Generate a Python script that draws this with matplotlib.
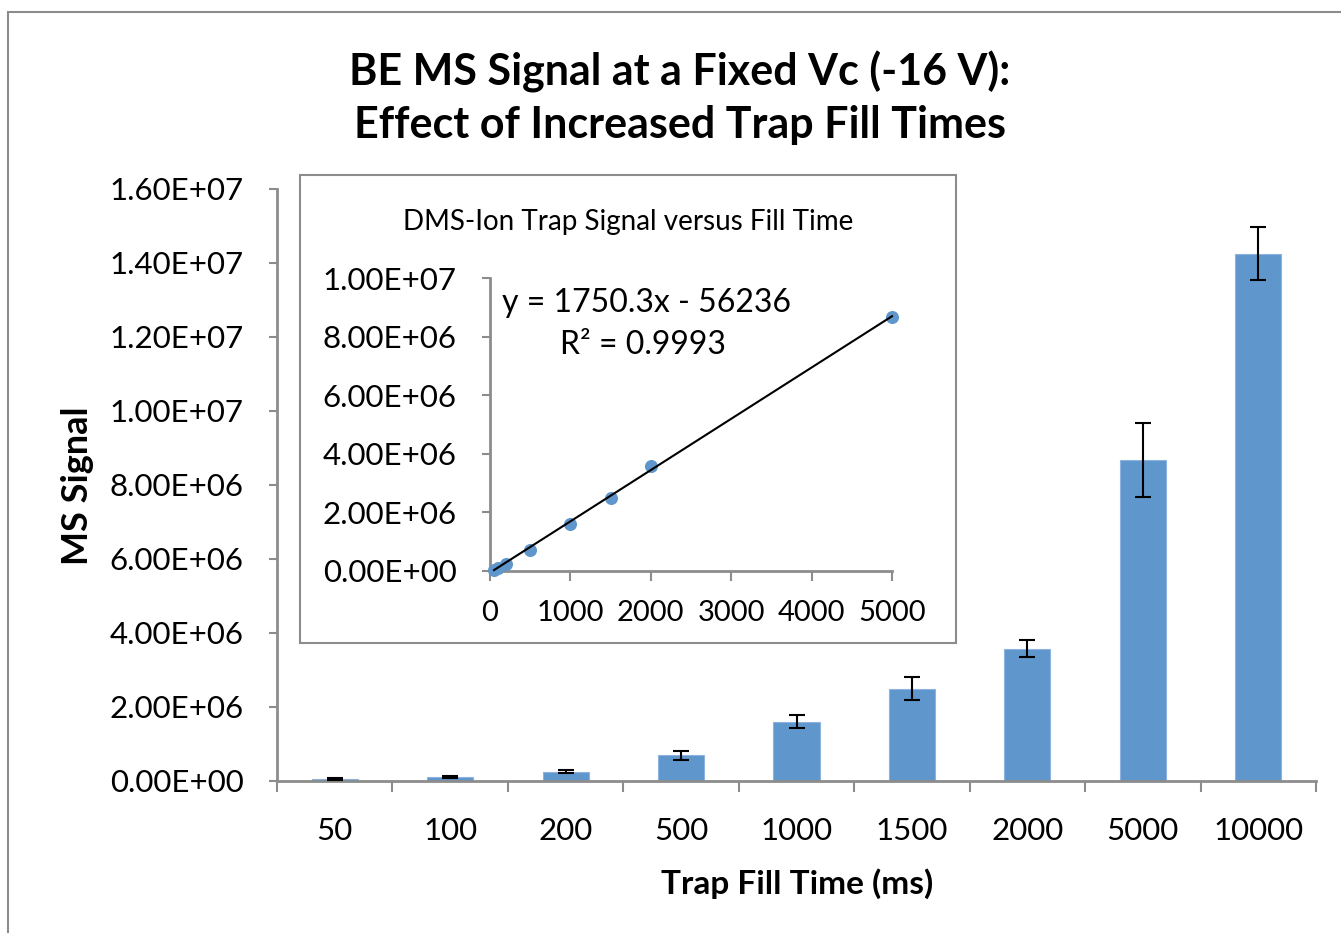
import numpy as np
import matplotlib.pyplot as plt
from matplotlib.patches import Rectangle

plt.rcParams['font.family'] = ['Lato', 'DejaVu Sans']

#----------------------------------------------------------------
# Data
fill_times = ['50', '100', '200', '500', '1000', '1500', '2000', '5000', '10000']
ms_signal = [0.05e6, 0.1e6, 0.25e6, 0.7e6, 1.6e6, 2.5e6, 3.57e6, 8.68e6, 14.25e6]
ms_error = [0.03e6, 0.03e6, 0.04e6, 0.12e6, 0.18e6, 0.3e6, 0.23e6, 1.0e6, 0.72e6]

# inset: same runs up to 5000 ms
inset_x = [50, 100, 200, 500, 1000, 1500, 2000, 5000]
inset_y = [0.05e6, 0.1e6, 0.25e6, 0.7e6, 1.6e6, 2.5e6, 3.57e6, 8.68e6]
slope = 1750.3
intercept = -56236
r2 = 0.9993
#----------------------------------------------------------------

W, H = 1341, 933
fig = plt.figure(figsize=(W / 100, H / 100), dpi=100)
bar_color = '#5F96CC'
axis_gray = '#8C8C8C'

def fx(px):
    return px / W

def fy(py):
    return 1 - py / H

# outer chart border
fig.patches.append(Rectangle((fx(8), -0.1), 1.2, fy(12) + 0.1, transform=fig.transFigure,
                             fill=False, edgecolor=axis_gray, linewidth=1.5, clip_on=False))

#----------------------------------------------------------------
# Main bar chart
ax = fig.add_axes([fx(277), fy(781), fx(1316) - fx(277), fy(189) - fy(781)])
pos = np.arange(len(fill_times))
ax.bar(pos, ms_signal, width=0.4, color=bar_color, edgecolor='#8DB4E0', linewidth=0.8, zorder=2)
ax.errorbar(pos, ms_signal, yerr=ms_error, fmt='none', ecolor='black', elinewidth=1.5,
            capsize=5.5, capthick=1.5, zorder=3)
ax.set_xlim(-0.5, len(fill_times) - 0.5)
ax.set_ylim(0, 1.6e7)
main_ticks = np.arange(0, 1.61e7, 2e6)
ax.set_yticks(main_ticks)
ax.set_yticklabels(['0.00E+00', '2.00E+06', '4.00E+06', '6.00E+06', '8.00E+06',
                    '1.00E+07', '1.20E+07', '1.40E+07', '1.60E+07'])
ax.set_xticks(pos)
ax.set_xticklabels(fill_times)
ax.set_xticks(np.arange(-0.5, len(fill_times)), minor=True)
ax.tick_params(axis='x', which='major', length=0, pad=26, labelsize=22.5)
ax.tick_params(axis='x', which='minor', length=8, width=1.5, color=axis_gray, direction='out')
ax.tick_params(axis='y', length=6, width=1.5, color=axis_gray, pad=18, labelsize=22.5)
for s in ['top', 'right']:
    ax.spines[s].set_visible(False)
for s in ['left', 'bottom']:
    ax.spines[s].set_color(axis_gray)
    ax.spines[s].set_linewidth(2)

fig.text(fx(78), fy(486), 'MS Signal', rotation=90, ha='center', va='center',
         fontsize=26, fontweight='bold')
fig.text(fx(797), fy(884), 'Trap Fill Time (ms)', ha='center', va='center',
         fontsize=24, fontweight='bold')

fig.text(fx(680), fy(72), 'BE MS Signal at a Fixed Vc (-16 V):', ha='center', va='center',
         fontsize=31, fontweight='bold')
fig.text(fx(680), fy(125), 'Effect of Increased Trap Fill Times', ha='center', va='center',
         fontsize=31, fontweight='bold')

#----------------------------------------------------------------
# Inset scatter with trendline
fig.patches.append(Rectangle((fx(300), fy(643)), fx(956) - fx(300), fy(175) - fy(643),
                             transform=fig.transFigure, facecolor='white',
                             edgecolor=axis_gray, linewidth=1.5, zorder=5))
ins = fig.add_axes([fx(490), fy(571), fx(892) - fx(490), fy(278) - fy(571)], zorder=6)
ins.patch.set_alpha(0)
ins.scatter(inset_x, inset_y, s=70, color=bar_color, zorder=3, clip_on=False)
xx = np.array([inset_x[0], inset_x[-1]])
ins.plot(xx, slope * xx + intercept, color='black', linewidth=1.5, zorder=4, clip_on=False)
ins.set_xlim(0, 5000)
ins.set_ylim(0, 1e7)
ins.set_xticks([0, 1000, 2000, 3000, 4000, 5000])
ins.set_yticks(np.arange(0, 1.01e7, 2e6))
ins.set_yticklabels(['0.00E+00', '2.00E+06', '4.00E+06', '6.00E+06', '8.00E+06', '1.00E+07'])
ins.tick_params(axis='x', length=7, width=1.5, color=axis_gray, pad=14, labelsize=21)
ins.tick_params(axis='y', length=6, width=1.5, color=axis_gray, pad=18, labelsize=22.5)
for s in ['top', 'right']:
    ins.spines[s].set_visible(False)
for s in ['left', 'bottom']:
    ins.spines[s].set_color(axis_gray)
    ins.spines[s].set_linewidth(2)

fig.text(fx(628), fy(222), 'DMS-Ion Trap Signal versus Fill Time', ha='center', va='center',
         fontsize=20, zorder=7)
fig.text(fx(502), fy(303), 'y = %.1fx - %d' % (slope, -intercept), ha='left', va='center',
         fontsize=23, zorder=7)
fig.text(fx(560), fy(345), 'R² = %.4f' % r2, ha='left', va='center', fontsize=23, zorder=7)

fig.savefig('out.png', dpi=100)
